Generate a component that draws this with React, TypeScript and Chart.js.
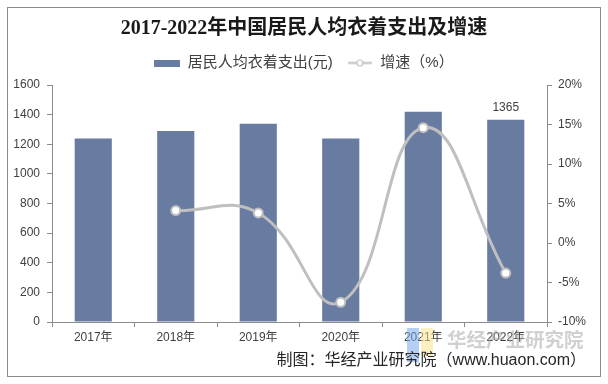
import React, { useEffect, useRef } from "react";
import { Chart, registerables } from "chart.js";

Chart.register(...registerables);

const categories = ["2017年", "2018年", "2019年", "2020年", "2021年", "2022年"];
const spending = [1238, 1289, 1338, 1238, 1419, 1365];
const growth = [null, 4.1, 3.8, -7.5, 14.6, -3.8];
const labelledIndex = [5];
const titleText = "2017-2022年中国居民人均衣着支出及增速";
const barName = "居民人均衣着支出(元)";
const lineName = "增速（%）";

const BAR_COLOR = "#687BA0";
const LINE_COLOR = "#BFBFBF";
const TEXT_COLOR = "#404040";
const AXIS_COLOR = "#8C8C8C";
const SANS = "'Liberation Sans', Arial, 'Noto Sans CJK SC', sans-serif";

function makeBarIcon() {
  const c = document.createElement("canvas");
  c.width = 26;
  c.height = 7;
  const g = c.getContext("2d")!;
  g.fillStyle = BAR_COLOR;
  g.fillRect(0, 0, 26, 7);
  return c;
}

function makeLineIcon() {
  const c = document.createElement("canvas");
  c.width = 24;
  c.height = 9;
  const g = c.getContext("2d")!;
  g.strokeStyle = LINE_COLOR;
  g.lineWidth = 2;
  g.beginPath();
  g.moveTo(0, 4.5);
  g.lineTo(24, 4.5);
  g.stroke();
  g.fillStyle = "#fff";
  g.beginPath();
  g.arc(12, 4.5, 3, 0, Math.PI * 2);
  g.fill();
  g.lineWidth = 1.2;
  g.stroke();
  return c;
}

const dataLabelPlugin = {
  id: "dataLabel",
  afterDatasetsDraw(chart: any) {
    const meta = chart.getDatasetMeta(0);
    const ctx = chart.ctx;
    ctx.save();
    ctx.font = `12px ${SANS}`;
    ctx.fillStyle = TEXT_COLOR;
    ctx.textAlign = "center";
    ctx.textBaseline = "bottom";
    labelledIndex.forEach((i) => {
      const el = meta.data[i];
      ctx.fillText(String(spending[i]), el.x, el.y - 6);
    });
    ctx.restore();
  },
};

const legendSpacer = {
  id: "legendSpacer",
  afterInit(chart: any) {
    const lg = chart.legend;
    if (lg && !lg.__patched) {
      const orig = lg.fit.bind(lg);
      lg.fit = function () {
        orig();
        this.height += 4.5;
      };
      lg.__patched = true;
    }
  },
};

export default function App() {
  const ref = useRef<HTMLCanvasElement>(null);
  useEffect(() => {
    const barIcon = makeBarIcon();
    const lineIcon = makeLineIcon();
    const chart = new Chart(ref.current!, {
      data: {
        labels: categories,
        datasets: [
          {
            type: "bar",
            label: barName,
            data: spending,
            backgroundColor: BAR_COLOR,
            barPercentage: 0.9,
            categoryPercentage: 0.5,
            yAxisID: "y",
            order: 2,
          },
          {
            type: "line",
            label: lineName,
            data: growth,
            borderColor: LINE_COLOR,
            borderWidth: 3,
            tension: 0.45,
            pointRadius: 4.5,
            pointBackgroundColor: "#fff",
            pointBorderColor: LINE_COLOR,
            pointBorderWidth: 2,
            yAxisID: "y1",
            order: 1,
          },
        ] as any,
      },
      options: {
        animation: false,
        responsive: false,
        layout: { padding: { top: 8, left: 0, right: 0, bottom: 0 } },
        plugins: {
          title: {
            display: true,
            text: titleText,
            color: "#1a1a1a",
            font: { size: 20, weight: "bold", family: "'Liberation Serif', 'Noto Sans CJK SC', serif" },
            padding: { top: 9, bottom: 0.5 },
          },
          legend: {
            display: true,
            labels: {
              color: TEXT_COLOR,
              font: { size: 15, family: SANS },
              usePointStyle: true,
              pointStyleWidth: 26,
              padding: 14,
              generateLabels: () => [
                { text: barName, pointStyle: barIcon as any, fillStyle: BAR_COLOR, strokeStyle: BAR_COLOR, lineWidth: 0, datasetIndex: 0, fontColor: TEXT_COLOR } as any,
                { text: lineName, pointStyle: lineIcon as any, fillStyle: "#fff", strokeStyle: LINE_COLOR, lineWidth: 0, datasetIndex: 1, fontColor: TEXT_COLOR } as any,
              ],
            },
          },
          tooltip: { enabled: false },
        },
        scales: {
          x: {
            grid: { display: true, drawOnChartArea: false, drawTicks: true, tickLength: 5, color: AXIS_COLOR, offset: true },
            border: { display: true, color: AXIS_COLOR },
            ticks: { color: TEXT_COLOR, font: { size: 12, family: SANS }, padding: 3 },
            afterFit: (s: any) => {
              s.height = 62;
            },
          },
          y: {
            position: "left",
            min: 0,
            max: 1600,
            ticks: { stepSize: 200, color: TEXT_COLOR, font: { size: 12, family: SANS }, padding: 7, callback: (v: any) => String(v) },
            grid: { drawOnChartArea: false, drawTicks: true, tickLength: 5, color: AXIS_COLOR },
            border: { display: true, color: AXIS_COLOR },
            afterFit: (s: any) => {
              s.width = 52;
            },
          },
          y1: {
            position: "right",
            min: -10,
            max: 20,
            ticks: { stepSize: 5, color: TEXT_COLOR, font: { size: 12, family: SANS }, padding: 6, callback: (v: any) => v + "%" },
            grid: { drawOnChartArea: false, drawTicks: true, tickLength: 5, color: AXIS_COLOR },
            border: { display: true, color: AXIS_COLOR },
            afterFit: (s: any) => {
              s.width = 61;
            },
          },
        },
      } as any,
      plugins: [dataLabelPlugin, legendSpacer],
    });
    return () => chart.destroy();
  }, []);

  return (
    <div style={{ position: "fixed", left: 0, top: 0, width: 608, height: 384, background: "#fff" }}>
      <div style={{ position: "absolute", left: 7, top: 7, width: 592, height: 368, border: "1px solid #8C8C8C" }} />
      <canvas ref={ref} width={608} height={384} style={{ position: "absolute", left: 0, top: 0 }} />
      <div style={{ position: "absolute", left: 407, top: 328, width: 12, height: 34, background: "rgba(120,170,235,0.55)" }} />
      <div style={{ position: "absolute", left: 421, top: 328, width: 12, height: 28, background: "rgba(250,225,140,0.55)" }} />
      <div
        style={{
          position: "absolute",
          left: 447,
          top: 329,
          lineHeight: "20px",
          fontFamily: "'Noto Sans CJK SC', sans-serif",
          fontWeight: 700,
          fontSize: 19.5,
          color: "rgba(170,170,170,0.55)",
          whiteSpace: "nowrap",
        }}
      >
        华经产业研究院
      </div>
      <div
        style={{
          position: "absolute",
          right: 22,
          top: 352,
          lineHeight: "16px",
          fontFamily: SANS,
          fontSize: 16,
          color: "#262626",
          whiteSpace: "nowrap",
        }}
      >
        制图：华经产业研究院（www.huaon.com）
      </div>
    </div>
  );
}
